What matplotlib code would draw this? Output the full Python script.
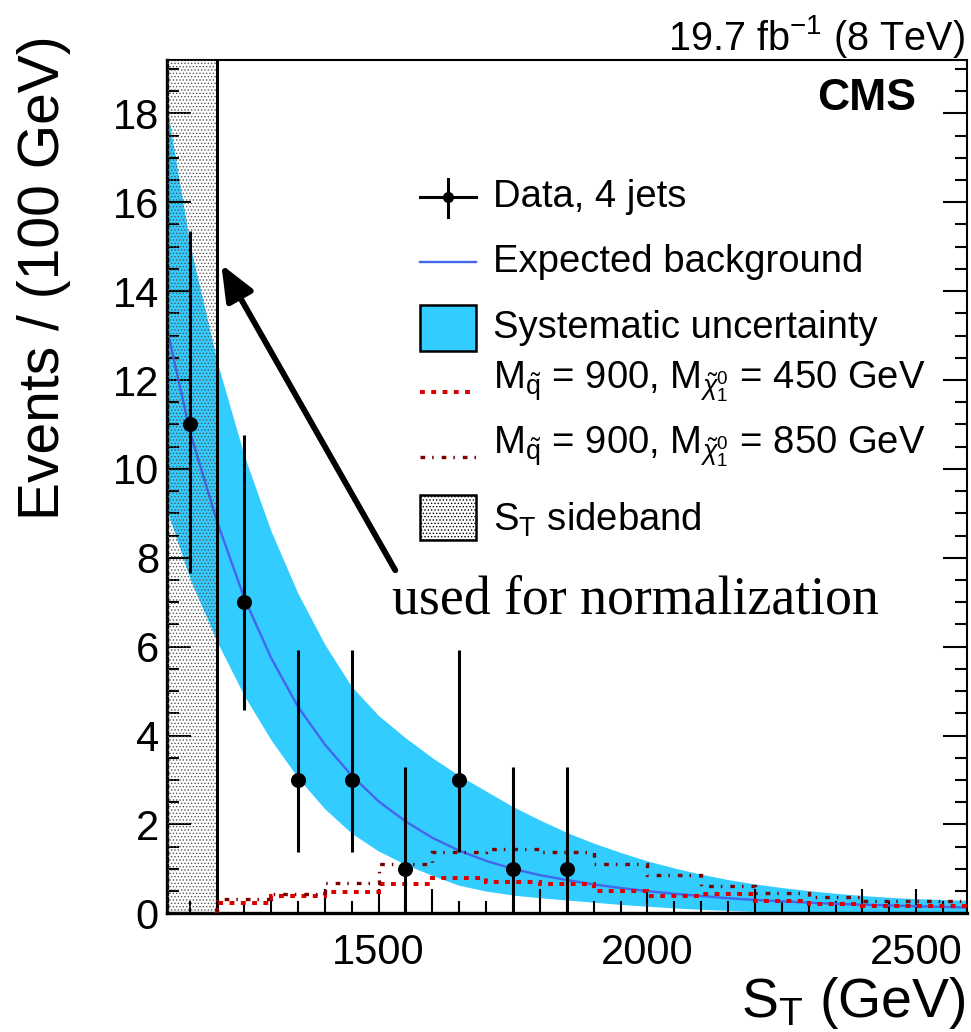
import numpy as np
import matplotlib.pyplot as plt
from matplotlib.patches import Rectangle

plt.rcParams['font.family'] = ['Liberation Sans', 'DejaVu Sans']
plt.rcParams['mathtext.fontset'] = 'custom'
plt.rcParams['mathtext.rm'] = 'Liberation Sans'
plt.rcParams['mathtext.it'] = 'Liberation Sans:italic'
plt.rcParams['mathtext.bf'] = 'Liberation Sans:bold'
plt.rcParams['hatch.linewidth'] = 0.6

# observed events, 4 jets (100 GeV bins)
st_data = [1150, 1250, 1350, 1450, 1550, 1650, 1750, 1850]
n_data = [11, 7, 3, 3, 1, 3, 1, 1]
err_lo = [3.35, 2.42, 1.63, 1.63, 1.0, 1.63, 1.0, 1.0]
err_hi = [4.36, 3.77, 2.92, 2.92, 2.30, 2.92, 2.30, 2.30]

# expected background shape and its systematic envelope
st_bkg = [1100, 1150, 1200, 1250, 1300, 1350, 1400, 1450, 1500, 1550, 1600,
          1650, 1700, 1750, 1800, 1850, 1900, 1950, 2000, 2050, 2100, 2150,
          2200, 2250, 2300, 2350, 2400, 2450, 2500, 2550, 2600]
bkg = [13.5, 10.8, 8.8, 7.1, 5.75, 4.65, 3.8, 3.1, 2.52, 2.07, 1.70,
       1.41, 1.18, 1.0, 0.86, 0.75, 0.65, 0.57, 0.50, 0.44, 0.39, 0.34,
       0.30, 0.27, 0.24, 0.215, 0.195, 0.175, 0.16, 0.145, 0.13]
bkg_up = [18.6, 15.0, 12.4, 10.3, 8.6, 7.2, 6.05, 5.1, 4.45, 3.95, 3.5,
          3.1, 2.75, 2.4, 2.1, 1.82, 1.58, 1.37, 1.18, 1.02, 0.88, 0.76,
          0.66, 0.58, 0.51, 0.45, 0.40, 0.36, 0.33, 0.31, 0.29]
bkg_dn = [9.3, 7.5, 6.1, 4.9, 3.9, 3.05, 2.35, 1.8, 1.4, 1.1, 0.85,
          0.63, 0.5, 0.41, 0.35, 0.30, 0.25, 0.20, 0.16, 0.12, 0.09, 0.065,
          0.045, 0.035, 0.03, 0.025, 0.02, 0.02, 0.02, 0.02, 0.02]

# signal templates
sig_edges = [1200, 1300, 1400, 1500, 1600, 1700, 1800, 1900, 2000,
             2100, 2200, 2300, 2400, 2500, 2600]
sig_450 = [0.23, 0.39, 0.48, 0.66, 0.79, 0.71, 0.67, 0.51, 0.39, 0.44,
           0.28, 0.22, 0.16, 0.16]
sig_850 = [0.32, 0.43, 0.69, 1.12, 1.39, 1.44, 1.38, 1.12, 0.87, 0.62,
           0.45, 0.37, 0.28, 0.28]

sideband = (1100, 1200)

band_col = '#33CCFF'
line_col = '#4466EE'
red = '#DD0000'
dark_red = '#7A0000'
red_style = (0, (1.2, 1.6))
dark_style = (0, (1.4, 2.1, 0.45, 2.4))

fig = plt.figure(figsize=(9.71, 10.32), dpi=100)
ax = fig.add_axes([0.1723, 0.1150, 0.8233, 0.8268])

ax.fill_between(st_bkg, bkg_dn, bkg_up, color=band_col, lw=0, zorder=1)
ax.plot(st_bkg, bkg, color=line_col, lw=1.7, zorder=2)

# sideband region used for the normalization
ax.add_patch(Rectangle((sideband[0], 0), sideband[1] - sideband[0], 25,
                       facecolor='none', edgecolor='#555555', lw=0,
                       hatch='.....', zorder=3))
ax.axvline(sideband[1], color='black', lw=2.2, zorder=3)

ax.stairs(sig_450, sig_edges, baseline=0, color=red, lw=2.9,
          linestyle=red_style, zorder=4)
ax.stairs(sig_850, sig_edges, baseline=0, color=dark_red, lw=2.4,
          linestyle=dark_style, zorder=4)

ax.errorbar(st_data, n_data, yerr=[err_lo, err_hi], fmt='o', color='black',
            ms=9.8, elinewidth=2.2, capsize=0, zorder=5, clip_on=False)

ax.set_xlim(1107, 2594)
ax.set_ylim(0, 19.2)

ax.set_xticks([1200, 1400, 1500, 1600, 1800, 2000, 2200, 2400, 2500])
ax.set_xticklabels(['', '', '1500', '', '', '2000', '', '', '2500'])
ax.set_xticks(np.arange(1150, 2600, 50), minor=True)
ax.set_yticks(np.arange(0, 19, 2))
ax.set_yticks(np.arange(0, 19.2, 0.5), minor=True)
ax.tick_params(which='both', direction='in', width=1.5, top=False, right=True)
ax.tick_params(which='major', length=17, labelsize=30)
ax.tick_params(which='minor', length=8.6)
ax.tick_params(axis='x', which='major', pad=14)
ax.tick_params(axis='y', which='major', pad=6)
for side in ['left', 'bottom']:
    ax.spines[side].set_linewidth(2.4)
for side in ['right', 'top']:
    ax.spines[side].set_linewidth(1.5)

fig.text(0.045, 0.966, 'Events / (100 GeV)', rotation=90, ha='center',
         va='top', fontsize=41)
fig.text(0.995, 0.0145, r'S$_{\mathrm{T}}$ (GeV)', ha='right',
         va='baseline', fontsize=40)
fig.text(0.994, 0.9515, r'19.7 fb$^{\mathrm{-1}}$ (8 TeV)', ha='right',
         va='baseline', fontsize=28.5)
fig.text(0.943, 0.8934, 'CMS', ha='right', va='baseline', fontsize=32,
         fontweight='bold')

# legend
hx0, hx1, tx = 0.316, 0.386, 0.4074
hc = (hx0 + hx1) / 2
kw = dict(transform=ax.transAxes, clip_on=False, zorder=6)
ax.plot([hx0, hx1], [0.8398, 0.8398], color='black', lw=2.2, **kw)
ax.plot([hc, hc], [0.8164, 0.8609], color='black', lw=2.2, **kw)
ax.plot([hc], [0.8398], 'o', color='black', ms=7, **kw)
ax.plot([hx0, hx1], [0.7636, 0.7636], color=line_col, lw=1.7, **kw)
ax.add_patch(Rectangle((hx0, 0.659), hx1 - hx0, 0.0536, facecolor=band_col,
                       edgecolor='black', lw=1.8, **kw))
ax.plot([hx0, hx1], [0.6113, 0.6113], color=red, lw=2.9,
        linestyle=red_style, **kw)
ax.plot([hx0, hx1], [0.5351, 0.5351], color=dark_red, lw=2.4,
        linestyle=dark_style, **kw)
ax.add_patch(Rectangle((hx0, 0.437), hx1 - hx0, 0.0536, facecolor='white',
                       edgecolor='black', lw=1.8, hatch='.....', **kw))

labels = ['Data, 4 jets', 'Expected background', 'Systematic uncertainty',
          r'M$_{\tilde{\mathrm{q}}}$ = 900, M$_{\tilde{\chi}^{0}_{1}}$ = 450 GeV',
          r'M$_{\tilde{\mathrm{q}}}$ = 900, M$_{\tilde{\chi}^{0}_{1}}$ = 850 GeV',
          r'S$_{\mathrm{T}}$ sideband']
baselines = [0.8281, 0.7519, 0.6739, 0.6153, 0.5391, 0.448]
for lab, yb in zip(labels, baselines):
    ax.text(tx, yb, lab, transform=ax.transAxes, fontsize=27.5,
            va='baseline', ha='left', zorder=6)

ax.annotate('', xy=(1207.5, 14.6), xytext=(1531, 7.72),
            arrowprops=dict(arrowstyle='-|>,head_length=1.08,head_width=0.45',
                            lw=4.2, color='black', mutation_scale=20,
                            shrinkA=0, shrinkB=0), zorder=6)
fig.text(0.4037, 0.406, 'used for normalization', family='Liberation Serif',
         fontsize=38.7, ha='left', va='baseline')

fig.savefig('out.png', dpi=100)
